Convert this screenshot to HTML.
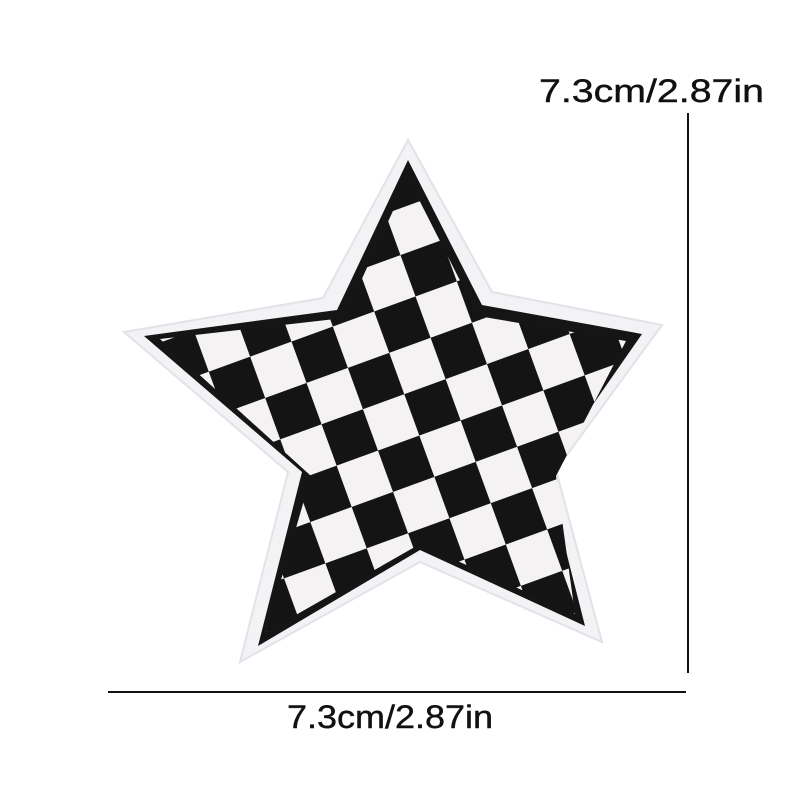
<!DOCTYPE html>
<html><head><meta charset="utf-8"><style>
html,body{margin:0;padding:0;background:#fff;}
svg{display:block}
text{font-family:"Liberation Sans",sans-serif;font-size:32px;fill:#111;stroke:#111;stroke-width:0.4px;}
</style></head><body>
<svg width="800" height="800" viewBox="0 0 800 800">
<defs>
<pattern id="chk" width="88" height="88" patternUnits="userSpaceOnUse" patternTransform="rotate(-20 400 400) translate(10 0)">
<rect width="88" height="88" fill="#f4f2f2"/>
<rect width="44" height="44" fill="#141414"/>
<rect x="44" y="44" width="44" height="44" fill="#141414"/>
</pattern>
<clipPath id="inner"><polygon points="408,178 478,316 626,341 556,476 575,614 420,544 266,632 311,476 160,339 344,318"/></clipPath>
</defs>
<polygon fill="#f3f3f6" stroke="#e2e2e8" stroke-width="2" points="408,140 492,292 662,325 556,470 602,642 420,562 240,662 288,472 124,332 323,298"/>
<polygon fill="#151515" points="408,160 482,305 642,334 546,472 585,626 420,550 258,646 302,472 144,336 337,310"/>
<g clip-path="url(#inner)"><rect x="100" y="100" width="600" height="600" fill="url(#chk)"/></g>
<line x1="688" y1="113" x2="688" y2="673" stroke="#111" stroke-width="2"/>
<line x1="108" y1="692" x2="686" y2="692" stroke="#111" stroke-width="2"/>
<text x="539" y="102" textLength="225" lengthAdjust="spacingAndGlyphs">7.3cm/2.87in</text>
<text x="287" y="728" textLength="206" lengthAdjust="spacingAndGlyphs">7.3cm/2.87in</text>
</svg>
</body></html>
